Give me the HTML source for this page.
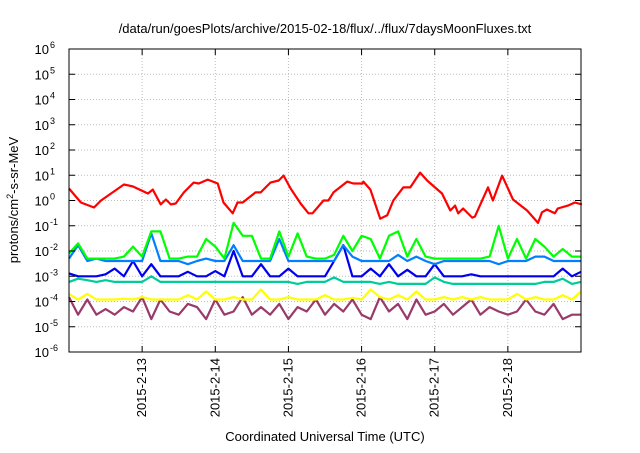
<!DOCTYPE html>
<html><head><meta charset="utf-8"><style>
body{margin:0;background:#fff;}
svg text{font-family:"Liberation Sans",sans-serif;}
</style></head><body>
<svg id="chart" width="640" height="448" xmlns="http://www.w3.org/2000/svg">
<rect width="640" height="448" fill="#fff"/>
<text x="325" y="33" font-size="13" text-anchor="middle">/data/run/goesPlots/archive/2015-02-18/flux/../flux/7daysMoonFluxes.txt</text>
<text x="325" y="441" font-size="13" text-anchor="middle">Coordinated Universal Time (UTC)</text>
<text transform="translate(18,200) rotate(-90)" font-size="13" text-anchor="middle">protons/cm<tspan dy="-5" font-size="9">2</tspan><tspan dy="5">-s-sr-MeV</tspan></text>
<g id="grid"></g><g id="series"></g><g id="axes"></g>
</svg>
<script>
const redHours=[0,3.9,8.2,10.5,18,21,25.9,27.5,30.1,31.8,33.4,35,37.7,40.9,42.6,45.5,48.8,50.7,53.7,55.3,57,61.2,62.9,66.1,68.8,70.4,72.7,76,78.6,79.9,83.5,85.1,86.8,91.3,93.3,96.3,96.6,98.9,102.1,104.4,106.4,109.7,112,115.2,117.5,122.4,125.1,126.7,127.7,129.3,132.3,133.2,137.5,139.1,142.1,145.7,150.3,153.9,155.2,156.8,159.4,160.4,163.7,166,168.3];
const redVals=[3.0,0.83,0.53,1.0,4.3,3.6,1.9,2.7,0.7,1.1,0.7,0.76,2.1,5.1,4.7,6.7,4.7,0.83,0.31,0.83,0.83,2.1,2.1,5.1,6.2,9.7,3.0,0.76,0.31,0.31,1.0,1.0,2.1,5.6,4.7,4.7,5.6,2.7,0.19,0.26,1.0,3.3,3.3,12.7,6.2,1.9,0.4,0.63,0.31,0.48,0.21,0.23,3.3,1.0,9.7,1.1,0.4,0.13,0.34,0.44,0.31,0.48,0.63,0.83,0.7];
const greenVals=[0.008,0.02,0.005,0.005,0.005,0.005,0.006,0.015,0.006,0.06,
0.06,0.005,0.005,0.006,0.006,0.03,0.015,0.005,0.13,0.04,
0.04,0.005,0.005,0.06,0.006,0.05,0.006,0.005,0.005,0.007,
0.04,0.01,0.04,0.03,0.005,0.04,0.06,0.006,0.03,0.006,
0.005,0.005,0.005,0.005,0.005,0.005,0.006,0.1,0.005,0.03,
0.005,0.03,0.015,0.006,0.012,0.006,0.006];
const lightBlueVals=[0.005,0.017,0.004,0.005,0.004,0.004,0.004,0.004,0.004,0.05,
0.004,0.004,0.004,0.003,0.004,0.005,0.004,0.004,0.017,0.004,
0.004,0.004,0.004,0.03,0.004,0.004,0.004,0.004,0.004,0.004,
0.017,0.006,0.004,0.004,0.004,0.004,0.007,0.004,0.006,0.004,
0.003,0.004,0.004,0.004,0.004,0.004,0.004,0.003,0.004,0.004,
0.004,0.006,0.006,0.004,0.004,0.004,0.004];
const darkBlueVals=[0.0013,0.001,0.001,0.001,0.0012,0.002,0.001,0.004,0.001,0.003,
0.001,0.001,0.001,0.0015,0.001,0.001,0.0016,0.001,0.01,0.001,
0.001,0.003,0.001,0.001,0.002,0.001,0.001,0.001,0.001,0.004,
0.017,0.001,0.001,0.002,0.001,0.003,0.001,0.0018,0.001,0.001,
0.003,0.001,0.001,0.001,0.0012,0.001,0.001,0.001,0.001,0.001,
0.001,0.001,0.001,0.001,0.002,0.001,0.0015];
const tealVals=[0.0006,0.0008,0.0007,0.0006,0.0007,0.0006,0.0006,0.0006,0.0006,0.001,
0.0006,0.0006,0.0006,0.0006,0.0006,0.0006,0.0006,0.0006,0.0006,0.0006,
0.0006,0.0006,0.0006,0.0006,0.0006,0.0005,0.0006,0.0006,0.0006,0.0009,
0.0006,0.0006,0.0006,0.0006,0.0005,0.0006,0.0005,0.0005,0.0005,0.0005,
0.0009,0.0006,0.0005,0.0005,0.0005,0.0005,0.0005,0.0005,0.0005,0.0005,
0.0005,0.0005,0.0006,0.0006,0.0008,0.0005,0.0006];
const yellowVals=[0.0002,0.00012,0.0002,0.00012,0.00012,0.00012,0.00013,0.00012,0.00015,0.00012,
0.00012,0.00012,0.00012,0.00018,0.00012,0.00025,0.00012,0.00012,0.00015,0.00012,
0.00012,0.0003,0.00012,0.00012,0.00015,0.00012,0.00012,0.00012,0.00018,0.00012,
0.00012,0.00014,0.00012,0.0003,0.00015,0.00012,0.00018,0.00012,0.00025,0.00012,
0.00012,0.00015,0.00012,0.00015,0.00012,0.00015,0.00012,0.00012,0.00012,0.0002,
0.00012,0.00015,0.00012,0.00012,0.00018,0.00012,0.00025];
const purpleVals=[0.00015,0.00003,0.00012,0.00003,0.00005,0.00003,0.00006,0.00004,0.00015,0.00002,
0.00012,0.00004,0.00003,0.00008,0.00006,0.00002,0.00012,0.00003,0.00004,0.00015,
0.00003,0.00006,0.00003,0.00008,0.00002,0.00006,0.00004,0.00012,0.00003,0.00008,
0.00004,0.00012,0.00003,0.00002,0.00015,0.00004,0.00008,0.00002,0.00012,0.00003,
0.00004,0.00008,0.00003,0.00006,0.00012,0.00003,0.00006,0.00004,0.00003,0.00004,
0.00012,0.00004,0.00003,0.00008,0.00002,0.00003,0.00003];
const stepHours=3;
const yTickExps=[-6,-5,-4,-3,-2,-1,0,1,2,3,4,5,6];
const xTickLabels=["2015-2-13","2015-2-14","2015-2-15","2015-2-16","2015-2-17","2015-2-18"];
const xTickHours=[24,48,72,96,120,144];

const L=69,R=581,T=49,B=352,H0=0,H1=168;
const NS="http://www.w3.org/2000/svg";
function xs(h){return L+(h-H0)/(H1-H0)*(R-L);}
function ys(v){return B-(Math.log10(v)+6)/12*(B-T);}
function mk(tag,attrs,parent){const e=document.createElementNS(NS,tag);for(const k in attrs)e.setAttribute(k,attrs[k]);parent.appendChild(e);return e;}
const grid=document.getElementById('grid'),axes=document.getElementById('axes'),ser=document.getElementById('series');
yTickExps.forEach(e=>{
  const y=ys(Math.pow(10,e));
  if(e>-6&&e<6){const g=mk('line',{x1:L,x2:R,y1:y,y2:y,stroke:'#bbb','stroke-dasharray':'1,2','stroke-width':1},grid);
  }
  const t1=mk('line',{x1:L,x2:L+6,y1:y,y2:y,stroke:'#000'},axes);
  const t2=mk('line',{x1:R,x2:R-6,y1:y,y2:y,stroke:'#000'},axes);
  const tx=mk('text',{x:L-20,y:y+5,'font-size':13,'text-anchor':'end'},axes);
  
  tx.textContent='10';
  const sp=mk('tspan',{dy:-6,'font-size':9,x:L-19},tx);sp.textContent=String(e);
  sp.setAttribute('text-anchor','start');
});
xTickHours.forEach((h,i)=>{
  const x=xs(h);
  const g=mk('line',{x1:x,x2:x,y1:T,y2:B,stroke:'#bbb','stroke-dasharray':'1,2'},grid);
  
  const t=mk('line',{x1:x,x2:x,y1:B,y2:B-6,stroke:'#000'},axes);
  const t2=mk('line',{x1:x,x2:x,y1:T,y2:T+6,stroke:'#000'},axes);
  const tx=mk('text',{transform:`translate(${x+4},${B+6}) rotate(-90)`,'font-size':13,'text-anchor':'end'},axes);
  
  tx.textContent=xTickLabels[i];
});
const frame=mk('rect',{x:L,y:T,width:R-L,height:B-T,fill:'none',stroke:'#000','stroke-width':1},axes);

function drawLine(hours,vals,color,name){
  const pts=vals.map((v,i)=>xs(hours?hours[i]:i*stepHours).toFixed(1)+','+ys(v).toFixed(1)).join(' ');
  const p=mk('polyline',{points:pts,fill:'none',stroke:color,'stroke-width':2.2,'stroke-linejoin':'round'},ser);
  
}
drawLine(null,purpleVals,'#993a6a','series-purple');
drawLine(null,yellowVals,'#ffff00','series-yellow');
drawLine(null,tealVals,'#00cc99','series-teal');
drawLine(null,darkBlueVals,'#0000ee','series-dark-blue');
drawLine(null,lightBlueVals,'#0080ff','series-light-blue');
drawLine(null,greenVals,'#00ff00','series-green');
drawLine(redHours,redVals,'#ff0000','series-red');
</script>
</body></html>
